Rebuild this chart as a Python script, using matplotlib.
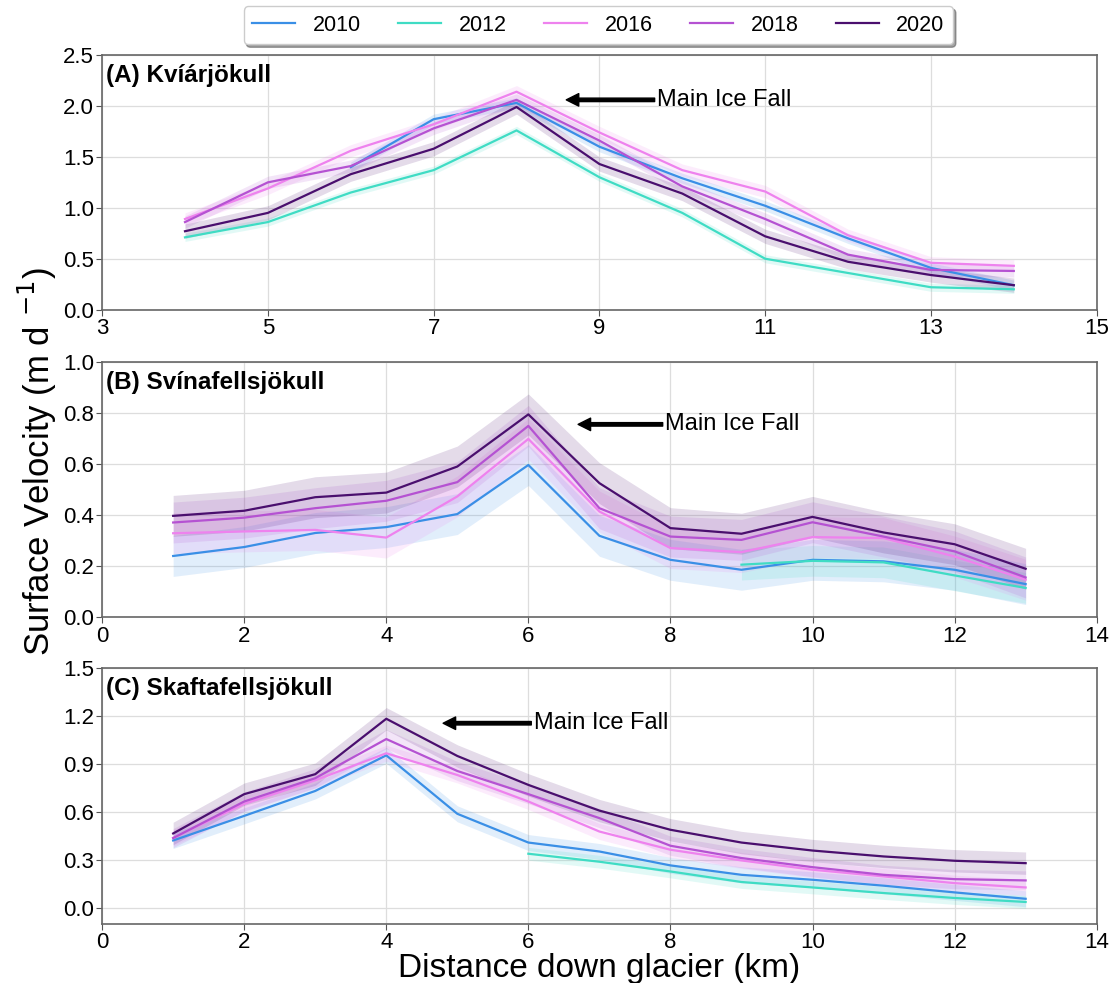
import numpy as np
import matplotlib
matplotlib.use('Agg')
import matplotlib.pyplot as plt

plt.rcParams['font.family'] = ['Liberation Sans', 'DejaVu Sans']

years = ['2010', '2012', '2016', '2018', '2020']
colors = ['#3a8fe6', '#3fdcc4', '#ee82ee', '#b552d2', '#4a0f6e']

# (A) Kviarjokull
dist_a = [4, 5, 6, 7, 8, 9, 10, 11, 12, 13, 14]
kvi_2010 = [None, None, 1.40, 1.87, 2.03, 1.60, 1.29, 1.02, 0.70, 0.41, 0.24]
kvi_2012 = [0.71, 0.86, 1.15, 1.37, 1.76, 1.30, 0.95, 0.50, 0.36, 0.22, 0.20]
kvi_2016 = [0.89, 1.19, 1.56, 1.82, 2.14, 1.74, 1.37, 1.16, 0.73, 0.46, 0.43]
kvi_2018 = [0.86, 1.25, 1.41, 1.78, 2.06, 1.66, 1.21, 0.89, 0.54, 0.39, 0.38]
kvi_2020 = [0.77, 0.95, 1.33, 1.58, 1.99, 1.43, 1.14, 0.72, 0.47, 0.34, 0.24]
kvi_err = [0.05, 0.04, 0.06, 0.06, 0.07]

# (B) Svinafellsjokull
dist_b = [1, 2, 3, 4, 5, 6, 7, 8, 9, 10, 11, 12, 13]
svi_2010 = [0.24, 0.275, 0.33, 0.353, 0.404, 0.596, 0.319, 0.225, 0.186, 0.225, 0.219, 0.186, 0.13]
svi_2012 = [None, None, None, None, None, None, None, None, 0.206, 0.221, 0.215, 0.164, 0.115]
svi_2016 = [0.329, 0.336, 0.342, 0.312, 0.473, 0.698, 0.414, 0.271, 0.255, 0.314, 0.31, 0.238, 0.147]
svi_2018 = [0.371, 0.39, 0.427, 0.456, 0.529, 0.749, 0.427, 0.316, 0.303, 0.372, 0.316, 0.258, 0.156]
svi_2020 = [0.397, 0.417, 0.47, 0.488, 0.59, 0.794, 0.525, 0.349, 0.327, 0.393, 0.332, 0.286, 0.19]
svi_err = [0.08, 0.06, 0.08, 0.08, 0.08]

# (C) Skaftafellsjokull
dist_c = [1, 2, 3, 4, 5, 6, 7, 8, 9, 10, 11, 12, 13]
ska_2010 = [0.423, 0.577, 0.733, 0.956, 0.59, 0.41, 0.354, 0.267, 0.208, 0.177, 0.14, 0.098, 0.058]
ska_2012 = [None, None, None, None, None, 0.34, 0.29, 0.229, 0.163, 0.129, 0.094, 0.063, 0.038]
ska_2016 = [0.44, 0.652, 0.80, 0.969, 0.833, 0.667, 0.479, 0.365, 0.298, 0.24, 0.198, 0.156, 0.129]
ska_2018 = [0.438, 0.667, 0.813, 1.058, 0.858, 0.713, 0.563, 0.39, 0.313, 0.256, 0.208, 0.181, 0.173]
ska_2020 = [0.467, 0.713, 0.838, 1.185, 0.952, 0.771, 0.61, 0.49, 0.41, 0.36, 0.323, 0.296, 0.281]
ska_err = [0.05, 0.04, 0.05, 0.06, 0.07]

panels = [
    ('(A) Kvíárjökull', dist_a, [kvi_2010, kvi_2012, kvi_2016, kvi_2018, kvi_2020], kvi_err,
     (3, 15), np.arange(3, 16, 2), (0, 2.5), np.arange(0, 2.51, 0.5), (8.6, 2.06), 9.7),
    ('(B) Svínafellsjökull', dist_b, [svi_2010, svi_2012, svi_2016, svi_2018, svi_2020], svi_err,
     (0, 14), np.arange(0, 15, 2), (0, 1.0), np.arange(0, 1.01, 0.2), (6.7, 0.755), 7.93),
    ('(C) Skaftafellsjökull', dist_c, [ska_2010, ska_2012, ska_2016, ska_2018, ska_2020], ska_err,
     (0, 14), np.arange(0, 15, 2), (-0.1, 1.5), np.arange(0, 1.51, 0.3), (4.8, 1.157), 6.08),
]

fig = plt.figure(figsize=(11.1, 9.83), dpi=100)
boxes = [[0.092, 0.685, 0.896, 0.259],
         [0.092, 0.372, 0.896, 0.260],
         [0.092, 0.060, 0.896, 0.260]]

axes = []
for box, (title, dist, series, errs, xlim, xticks, ylim, yticks, arrow_xy, text_x) in zip(boxes, panels):
    ax = fig.add_axes(box)
    axes.append(ax)
    for yr, col, vals, e in zip(years, colors, series, errs):
        x = np.array([d for d, v in zip(dist, vals) if v is not None], dtype=float)
        y = np.array([v for v in vals if v is not None], dtype=float)
        ax.fill_between(x, y - e, y + e, color=col, alpha=0.15, lw=0)
        ax.plot(x, y, color=col, lw=1.6, label=yr)
    ax.set_xlim(*xlim)
    ax.set_ylim(*ylim)
    ax.set_xticks(xticks)
    ax.set_yticks(yticks)
    ax.yaxis.set_major_formatter(matplotlib.ticker.FormatStrFormatter('%.1f'))
    ax.tick_params(labelsize=16, length=4, color='#555555', pad=2)
    ax.grid(True, color='#dddddd', lw=0.9)
    ax.set_axisbelow(True)
    for sp in ax.spines.values():
        sp.set_color('#666666')
        sp.set_linewidth(1.2)
    ax.text(0.004, 0.965, title, transform=ax.transAxes, fontsize=17.5, fontweight='bold',
            va='top', ha='left')
    ax.annotate('Main Ice Fall', xy=arrow_xy, xytext=(text_x, arrow_xy[1]),
                fontsize=17, va='center', ha='left',
                arrowprops=dict(facecolor='black', edgecolor='black', width=2.5,
                                headwidth=9, headlength=9, shrink=0.0))

handles, labels = axes[0].get_legend_handles_labels()
fig.legend(handles, labels, loc='upper center', bbox_to_anchor=(0.539, 0.998), ncol=5,
           fontsize=15.5, frameon=True, shadow=True, handlelength=2.0, handletextpad=0.8,
           columnspacing=1.75, fancybox=True, borderpad=0.4, borderaxespad=0.2)

fig.text(0.034, 0.53, 'Surface Velocity (m d $^{-1}$)', rotation=90, va='center', ha='center',
         fontsize=25)
axes[2].set_xlabel('Distance down glacier (km)', fontsize=24, labelpad=0)

fig.savefig('out.png', dpi=100)
